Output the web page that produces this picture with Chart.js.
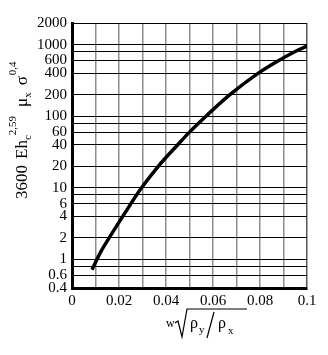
<!DOCTYPE html>
<html>
<head>
<meta charset="utf-8">
<script src="https://cdn.jsdelivr.net/npm/chart.js@4/dist/chart.umd.min.js"></script>
<style>
  body { margin: 0; background: #fff; }
  canvas { display: block; }
</style>
</head>
<body>
<canvas id="chart-area" width="328" height="355"></canvas>
<script>
/* curve */
var xValues = [0.0085, 0.012, 0.0162, 0.0218, 0.0296, 0.0367, 0.045, 0.05, 0.057, 0.0672, 0.0793, 0.088, 0.095, 0.1];
var yValues = [0.72, 1.24, 2.1, 4.1, 10, 20, 40, 60, 100, 200, 400, 600, 800, 950];

var xTickValues = [0, 0.01, 0.02, 0.03, 0.04, 0.05, 0.06, 0.07, 0.08, 0.09, 0.1];
var xTickLabels = ['0', '', '0.02', '', '0.04', '', '0.06', '', '0.08', '', '0.1'];

var yTickValues = [0.4, 0.6, 0.8, 1, 2, 4, 6, 8, 10, 20, 40, 60, 80, 100, 200, 400, 600, 800, 1000, 2000];
var yTickLabels = ['0.4', '0.6', '', '1', '2', '4', '6', '', '10', '20', '40', '60', '', '100', '200', '400', '600', '', '1000', '2000'];

var serif = "'Liberation Serif', 'DejaVu Serif', serif";

// axis titles with sub/superscripts, drawn by hand
var titlesPlugin = {
    id: 'titles',
    afterDraw: function (chart) {
        var ctx = chart.ctx;
        ctx.save();
        ctx.fillStyle = '#000';
        ctx.textBaseline = 'alphabetic';
        ctx.textAlign = 'left';

        // y title, rotated, reads bottom to top
        ctx.save();
        ctx.translate(27, 199);
        ctx.rotate(-Math.PI / 2);
        var pos = 0;
        function put(txt, size, dy, gap) {
            ctx.font = size + 'px ' + serif;
            ctx.fillText(txt, pos, dy);
            pos += ctx.measureText(txt).width + (gap || 0);
        }
        put('3600', 17, 0, 6);
        put('Eh', 17, 0, 0);
        put('c', 11, 4, 0);
        put('2,59', 11, -11, 9);
        put('\u03bc', 17, 0, 0);
        put('x', 11, 4, 7);
        put('\u03c3', 17, 0, 1);
        put('0,4', 11, -11, 0);
        ctx.restore();

        // x title: w sqrt(rho_y / rho_x)
        ctx.font = '12px ' + serif;
        ctx.fillText('w', 166, 327);
        ctx.strokeStyle = '#000';
        ctx.lineWidth = 1.2;
        ctx.beginPath();
        ctx.moveTo(175, 323);
        ctx.lineTo(178, 321);
        ctx.lineTo(182, 337);
        ctx.lineTo(187, 309);
        ctx.lineTo(247, 309);
        ctx.stroke();
        ctx.beginPath();
        ctx.moveTo(214, 312);
        ctx.lineTo(207, 338);
        ctx.stroke();
        ctx.font = '16px ' + serif;
        ctx.fillText('\u03c1', 190, 328);
        ctx.fillText('\u03c1', 218, 328);
        ctx.font = '11px ' + serif;
        ctx.fillText('y', 199, 333);
        ctx.fillText('x', 228, 334);
        ctx.restore();
    }
};

var points = xValues.map(function (x, i) {
    return { x: x, y: yValues[i] };
});

var config = {
    type: 'line',
    data: {
        datasets: [{
            data: points,
            borderColor: '#000',
            borderWidth: 3.5,
            pointRadius: 0,
            cubicInterpolationMode: 'monotone',
            fill: false
        }]
    },
    options: {
        responsive: false,
        animation: false,
        layout: {
            padding: { top: 23, right: 21, left: 0, bottom: 0 }
        },
        plugins: {
            legend: { display: false },
            tooltip: { enabled: false }
        },
        scales: {
            x: {
                type: 'linear',
                min: 0,
                max: 0.1,
                afterBuildTicks: function (scale) {
                    scale.ticks = xTickValues.map(function (v) { return { value: v }; });
                },
                afterFit: function (scale) { scale.height = 67; },
                ticks: {
                    autoSkip: false,
                    maxRotation: 0,
                    padding: 4,
                    color: '#000',
                    font: { family: serif, size: 15 },
                    callback: function (value, index) { return xTickLabels[index]; }
                },
                grid: {
                    drawTicks: false,
                    color: function (c) {
                        if (c.tick && c.tick.value === 0.1) return '#555';
                        return '#8e8e8e';
                    },
                    lineWidth: 1.5
                },
                border: { color: '#000', width: 3 }
            },
            y: {
                type: 'logarithmic',
                min: 0.4,
                max: 2000,
                afterBuildTicks: function (scale) {
                    scale.ticks = yTickValues.map(function (v) { return { value: v }; });
                },
                afterFit: function (scale) { scale.width = 72; },
                ticks: {
                    autoSkip: false,
                    padding: 5,
                    color: '#000',
                    font: { family: serif, size: 15 },
                    callback: function (value, index) { return yTickLabels[index]; }
                },
                grid: {
                    drawTicks: false,
                    color: '#000',
                    lineWidth: 1
                },
                border: { color: '#000', width: 3 }
            }
        }
    },
    plugins: [titlesPlugin]
};

var ctx = document.getElementById("chart-area").getContext("2d");
var myChart = new Chart(ctx, config);
</script>
</body>
</html>
